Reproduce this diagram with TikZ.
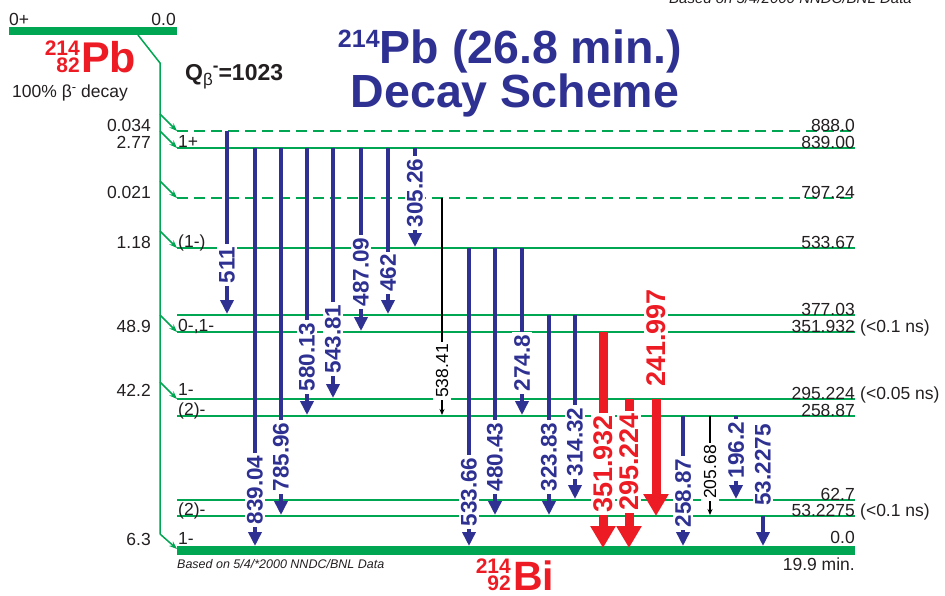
\documentclass[tikz,border=0pt]{standalone}
\usepackage{fontspec}
\setmainfont{Liberation Sans}
\usetikzlibrary{arrows.meta}
\definecolor{grn}{HTML}{00A651}
\definecolor{blu}{HTML}{2E3192}
\definecolor{rd}{HTML}{ED1C24}
\definecolor{txt}{HTML}{231F20}
\newcommand\fs[1]{\fontsize{#1}{#1}\selectfont}
% #1 name, #2 arrow style, #3 label style, #4 x, #5 y start, #6 y end, #7 label y, #8 label
\newcommand\gtrans[8]{%
  \coordinate (#1s) at (#4,#5);
  \coordinate (#1e) at (#4,#6);
  \draw[#2] (#1s) -- (#1e);
  \node[#3] (#1l) at (#4,#7) {#8};}
\begin{document}
\begin{tikzpicture}[x=1pt,y=-1pt,
  every node/.style={text=txt, inner sep=0pt},
  lev/.style={grn, line width=2.2pt},
  levd/.style={lev, dash pattern=on 11pt off 6pt},
  gbar/.style={grn, line width=9pt},
  gline/.style={grn, line width=1.5pt},
  feed/.style={gline, -{Stealth[length=8pt,width=6pt]}},
  bt/.style={blu, line width=4.5pt, -{Triangle[length=14pt,width=13pt]}},
  rt/.style={rd, line width=9pt, -{Triangle[length=22pt,width=24pt]}},
  kt/.style={black, line width=1.3pt, -{Stealth[length=6pt,width=5pt]}},
  blbl/.style={fill=white, rotate=90, inner sep=2.5pt, text=blu, font=\fs{22.5}\bfseries},
  rlbl/.style={fill=white, rotate=90, inner sep=2.5pt, text=rd, font=\fs{27}\bfseries},
  klbl/.style={fill=white, rotate=90, inner sep=2.5pt, text=black, font=\fs{17.5}},
  rnum/.style={anchor=base east, font=\fs{17.5}},
  rext/.style={anchor=base west, font=\fs{17.5}},
  lnum/.style={anchor=base west, font=\fs{17.5}},
  pct/.style={anchor=base east, font=\fs{17.5}},
  nucsup/.style={anchor=base east, text=rd, font=\fs{21}\bfseries},
  nucmain/.style={anchor=base west, text=rd, font=\fs{43}\bfseries},
  title/.style={anchor=base, text=blu, font=\fs{46.5}\bfseries},
  note/.style={font=\fs{12.5}\itshape}
]
\useasboundingbox (0,0) rectangle (945,595);

% top-right cut note
\node[note, font=\fs{15}\itshape, anchor=base east] (topnote) at (912,3) {Based on 5/4/2000 NNDC/BNL Data};

% parent
\draw[grn, line width=8pt] (9,31) -- (177,31);
\node[lnum] (pbspin) at (9,25) {0+};
\node[rnum] (pben) at (176,25) {0.0};
\node[nucsup] (pba) at (80,55) {214};
\node[nucsup] (pbz) at (80,72) {82};
\node[nucmain] (pb) at (81,72) {Pb};
\node[anchor=base west, font=\fs{17.5}] (dec) at (12,97) {100\% β\raisebox{6pt}{\fs{13}-} decay};
\node[anchor=base west, font=\fs{23}\bfseries] (qb) at (185,80) {Q\raisebox{-5pt}{\fs{17}\normalfont β}\raisebox{9pt}{\fs{17}-}=1023};

% title
\node[title] (t1) at (510,63) {\raisebox{16pt}{\fs{25}214}Pb (26.8 min.)};
\node[title] (t2) at (515,107) {Decay Scheme};

% feeding line
\coordinate (f0) at (138,35);
\coordinate (f1) at (160,63);
\coordinate (f2) at (160,534);
\draw[gline] (f0) -- (f1) -- (f2);
\foreach \yy in {131,148,198,248,332,399}{
  \draw[feed] (160,\yy-17) -- (177,\yy);
}
\draw[feed] (f2) -- (177,549);

% levels
\draw[levd] (177,131) -- (855,131);
\draw[lev]  (177,148) -- (855,148);
\draw[levd] (177,198) -- (855,198);
\draw[lev]  (177,248) -- (855,248);
\draw[lev]  (177,315) -- (855,315);
\draw[lev]  (177,332) -- (855,332);
\draw[lev]  (177,399) -- (855,399);
\draw[lev]  (177,416) -- (855,416);
\draw[lev]  (177,500) -- (855,500);
\draw[lev]  (177,516) -- (855,516);
\draw[gbar] (177,550.5) -- (855,550.5);

% feeding intensities
\node[pct] (p1) at (151,131) {0.034};
\node[pct] (p2) at (151,148) {2.77};
\node[pct] (p3) at (151,198) {0.021};
\node[pct] (p4) at (151,248) {1.18};
\node[pct] (p5) at (151,332) {48.9};
\node[pct] (p6) at (151,396) {42.2};
\node[pct] (p7) at (151,545) {6.3};

% spins
\node[lnum] (s1) at (178,147) {1+};
\node[lnum] (s2) at (178,247) {(1-)};
\node[lnum] (s3) at (178,331) {0-,1-};
\node[lnum] (s4) at (178,395) {1-};
\node[lnum] (s5) at (178,415) {(2)-};
\node[lnum] (s6) at (178,515) {(2)-};
\node[lnum] (s7) at (178,544) {1-};

% energies
\node[rnum] (e1) at (855,131) {888.0};
\node[rnum] (e2) at (855,148) {839.00};
\node[rnum] (e3) at (855,198) {797.24};
\node[rnum] (e4) at (855,248) {533.67};
\node[rnum] (e5) at (855,315) {377.03};
\node[rnum] (e6) at (855,332) {351.932};
\node[rext] (e6x) at (860,332) {(<0.1 ns)};
\node[rnum] (e7) at (855,399) {295.224};
\node[rext] (e7x) at (860,399) {(<0.05 ns)};
\node[rnum] (e8) at (855,416) {258.87};
\node[rnum] (e9) at (855,500) {62.7};
\node[rnum] (e10) at (855,516) {53.2275};
\node[rext] (e10x) at (860,516) {(<0.1 ns)};
\node[rnum] (e11) at (855,543) {0.0};
\node[rnum] (hl) at (855,570) {19.9 min.};

% transitions
\gtrans{g1}{bt}{blbl}{227}{131}{314}{265}{511}
\gtrans{g2}{bt}{blbl}{255}{148}{546}{490}{839.04}
\gtrans{g3}{bt}{blbl}{281}{148}{515}{457}{785.96}
\gtrans{g4}{bt}{blbl}{307}{148}{415}{357}{580.13}
\gtrans{g5}{bt}{blbl}{333}{148}{398}{339}{543.81}
\gtrans{g6}{bt}{blbl}{361}{148}{331}{272}{487.09}
\gtrans{g7}{bt}{blbl}{388}{148}{314}{273}{462}
\gtrans{g8}{bt}{blbl}{415}{148}{247}{193}{305.26}
\gtrans{g9}{kt}{klbl}{442}{198}{415}{371}{538.41}
\gtrans{g10}{bt}{blbl}{469}{248}{546}{492}{533.66}
\gtrans{g11}{bt}{blbl}{495}{248}{515}{457}{480.43}
\gtrans{g12}{bt}{blbl}{522}{248}{415}{363}{274.8}
\gtrans{g13}{bt}{blbl}{549}{315}{515}{457}{323.83}
\gtrans{g14}{bt}{blbl}{575}{315}{499}{442}{314.32}
\gtrans{g15}{rt}{rlbl}{603}{332}{548}{464}{351.932}
\gtrans{g16}{rt}{rlbl}{629}{399}{548}{462}{295.224}
\gtrans{g17}{rt}{rlbl}{656}{399}{516}{338}{241.997}
\gtrans{g18}{bt}{blbl}{683}{416}{546}{493}{258.87}
\gtrans{g19}{kt}{klbl}{710}{416}{515}{472}{205.68}
\gtrans{g20}{bt}{blbl}{736}{416}{499}{450}{196.2}
\gtrans{g21}{bt}{blbl}{763}{516}{546}{465}{53.2275}

% daughter
\node[note, anchor=base west] (bnote) at (177,568) {Based on 5/4/*2000 NNDC/BNL Data};
\node[nucsup] (bia) at (511,573) {214};
\node[nucsup] (biz) at (511,590) {92};
\node[nucmain, font=\fs{41}\bfseries] (bi) at (513,590) {Bi};
\end{tikzpicture}
\end{document}
